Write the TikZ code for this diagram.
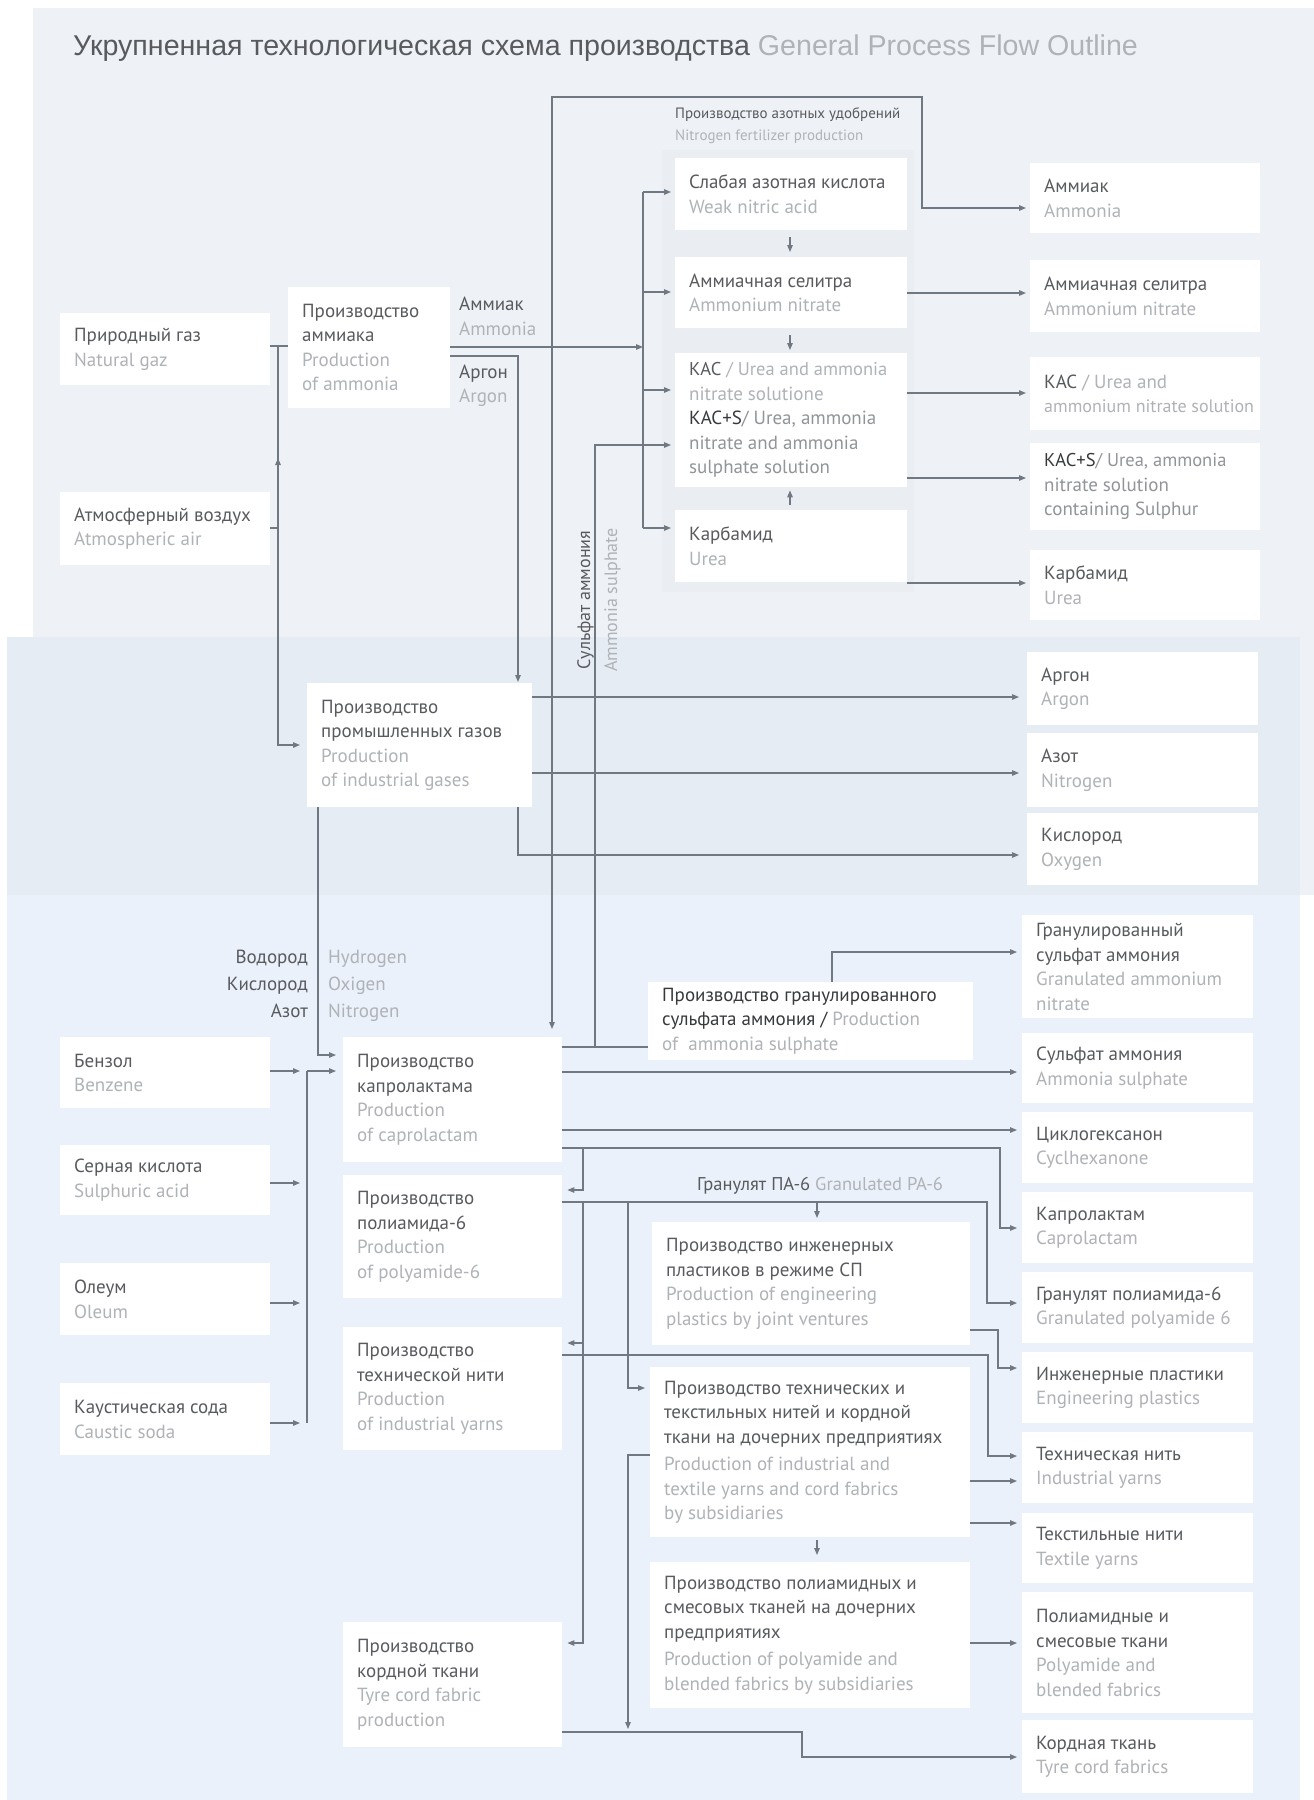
\documentclass[tikz,border=0pt]{standalone}
\usepackage{fontspec}
\setmainfont{PT Sans}
\newfontfamily\titlefont{Liberation Sans}
\usetikzlibrary{arrows.meta}
\definecolor{bgtop}{RGB}{238,241,245}
\definecolor{bgmid}{RGB}{230,236,244}
\definecolor{bglow}{RGB}{234,241,250}
\definecolor{bggrp}{RGB}{234,237,241}
\definecolor{rutc}{RGB}{88,90,94}
\definecolor{dktc}{RGB}{55,57,61}
\definecolor{entc}{RGB}{175,178,182}
\definecolor{mdtc}{RGB}{145,148,152}
\definecolor{lnc}{RGB}{112,120,130}
\newcommand\rutx[1]{\textcolor{rutc}{#1}}
\newcommand\entx[1]{\textcolor{entc}{#1}}
\newcommand\mdtx[1]{\textcolor{mdtc}{#1}}
\newcommand\dktx[1]{\textcolor{dktc}{#1}}
\newcommand\mkbox[6]{%
  \node[boxs, minimum width={#4-#2}, minimum height={#5-#3}, anchor=north west] (#1) at (#2,#3) {};
  \node[txt, anchor=west] (#1t) at ([xshift=14pt]#1.west) {#6};}
\tikzset{
  boxs/.style={rectangle, fill=white, draw=none, inner sep=0pt},
  txt/.style={inner sep=0pt, align=left, font=\fontsize{19}{24.5}\selectfont},
  lbl/.style={inner sep=0pt, font=\fontsize{19}{24}\selectfont},
  ln/.style={draw=lnc, line width=1.2pt},
  arr/.style={ln, -{Triangle[length=7pt,width=5.5pt]}},
}
\begin{document}
\begin{tikzpicture}[x=1pt,y=-1pt]
\useasboundingbox (0,0) rectangle (1314,1800);
\fill[white] (0,0) rectangle (1314,1800);
\fill[bgtop] (33,8) rectangle (1314,895);
\fill[bgmid] (7,637) rectangle (1300,895);
\fill[bglow] (7,895) rectangle (1300,1800);
\fill[bggrp] (662,150) rectangle (914,592);

\node[anchor=base west, inner sep=0pt, font=\titlefont\fontsize{28.6}{32}\selectfont] (title) at (73,55)
  {\textcolor{rutc}{Укрупненная технологическая схема производства} \textcolor{entc}{General Process Flow Outline}};

% ---------- top section boxes
\mkbox{gas}{60}{313}{270}{385}{\rutx{Природный газ}\\\entx{Natural gaz}}
\mkbox{air}{60}{492}{270}{565}{\rutx{Атмосферный воздух}\\\entx{Atmospheric air}}
\mkbox{amm}{288}{287}{450}{408}{\rutx{Производство}\\\rutx{аммиака}\\\entx{Production}\\\entx{of ammonia}}
\mkbox{wna}{675}{158}{907}{230}{\rutx{Слабая азотная кислота}\\\entx{Weak nitric acid}}
\mkbox{an}{675}{257}{907}{328}{\rutx{Аммиачная селитра}\\\entx{Ammonium nitrate}}
\mkbox{kas}{675}{353}{907}{487}{\fontsize{18.5}{23.5}\selectfont\rutx{КАС} \entx{/ Urea and ammonia}\\\entx{nitrate solutione}\\\dktx{КАС+S}\mdtx{/ Urea, ammonia}\\\mdtx{nitrate and ammonia}\\\mdtx{sulphate solution}}
\mkbox{urea}{675}{510}{907}{582}{\rutx{Карбамид}\\\entx{Urea}}
\mkbox{pAmm}{1030}{163}{1260}{233}{\rutx{Аммиак}\\\entx{Ammonia}}
\mkbox{pAN}{1030}{260}{1260}{332}{\rutx{Аммиачная селитра}\\\entx{Ammonium nitrate}}
\mkbox{pKAS}{1030}{357}{1260}{430}{\rutx{КАС} \entx{/ Urea and}\\\fontsize{18}{24}\selectfont\entx{ammonium nitrate solution}}
\mkbox{pKASS}{1030}{443}{1260}{530}{\fontsize{18.5}{23.5}\selectfont\dktx{КАС+S}\mdtx{/ Urea, ammonia}\\\mdtx{nitrate solution}\\\mdtx{containing Sulphur}}
\mkbox{pUrea}{1030}{550}{1260}{620}{\rutx{Карбамид}\\\entx{Urea}}

\node[anchor=base west, inner sep=0pt, font=\fontsize{15}{17}\selectfont] (fgl1) at (675,118) {\rutx{Производство азотных удобрений}};
\node[anchor=base west, inner sep=0pt, font=\fontsize{15}{17}\selectfont] (fgl2) at (675,140) {\entx{Nitrogen fertilizer production}};
\node[lbl, anchor=base west] (la1) at (459,310) {\rutx{Аммиак}};
\node[lbl, anchor=base west] (la2) at (459,335) {\entx{Ammonia}};
\node[lbl, anchor=base west] (lr1) at (459,378) {\rutx{Аргон}};
\node[lbl, anchor=base west] (lr2) at (459,402) {\entx{Argon}};

% ---------- middle section
\mkbox{igas}{307}{683}{532}{807}{\rutx{Производство}\\\rutx{промышленных газов}\\\entx{Production}\\\entx{of industrial gases}}
\mkbox{pAr}{1027}{652}{1258}{725}{\rutx{Аргон}\\\entx{Argon}}
\mkbox{pN}{1027}{733}{1258}{807}{\rutx{Азот}\\\entx{Nitrogen}}
\mkbox{pO}{1027}{813}{1258}{885}{\rutx{Кислород}\\\entx{Oxygen}}

% ---------- lower section
\mkbox{benz}{60}{1037}{270}{1108}{\rutx{Бензол}\\\entx{Benzene}}
\mkbox{sulf}{60}{1145}{270}{1215}{\rutx{Серная кислота}\\\entx{Sulphuric acid}}
\mkbox{oleum}{60}{1263}{270}{1335}{\rutx{Олеум}\\\entx{Oleum}}
\mkbox{soda}{60}{1383}{270}{1455}{\rutx{Каустическая сода}\\\entx{Caustic soda}}
\mkbox{capro}{343}{1037}{562}{1162}{\rutx{Производство}\\\rutx{капролактама}\\\entx{Production}\\\entx{of caprolactam}}
\mkbox{pa6}{343}{1175}{562}{1298}{\rutx{Производство}\\\rutx{полиамида-6}\\\entx{Production}\\\entx{of polyamide-6}}
\mkbox{yarn}{343}{1327}{562}{1450}{\rutx{Производство}\\\rutx{технической нити}\\\entx{Production}\\\entx{of industrial yarns}}
\mkbox{cord}{343}{1622}{562}{1747}{\rutx{Производство}\\\rutx{кордной ткани}\\\entx{Tyre cord fabric}\\\entx{production}}
\mkbox{sasp}{648}{982}{973}{1060}{\dktx{Производство гранулированного}\\\dktx{сульфата аммония /} \entx{Production}\\\entx{of\ \ ammonia sulphate}}
\mkbox{eng}{652}{1222}{970}{1345}{\rutx{Производство инженерных}\\\rutx{пластиков в режиме СП}\\\entx{Production of engineering}\\\entx{plastics by joint ventures}}
\mkbox{subs}{650}{1367}{970}{1537}{\rutx{Производство технических и}\\\rutx{текстильных нитей и кордной}\\\rutx{ткани на дочерних предприятиях}\\[3pt]\entx{Production of industrial and}\\\entx{textile yarns and cord fabrics}\\\entx{by subsidiaries}}
\mkbox{fab}{650}{1562}{970}{1708}{\rutx{Производство полиамидных и}\\\rutx{смесовых тканей на дочерних}\\\rutx{предприятиях}\\[3pt]\entx{Production of polyamide and}\\\entx{blended fabrics by subsidiaries}}
\mkbox{pGAS}{1022}{915}{1253}{1018}{\fontsize{19}{23.5}\selectfont\rutx{Гранулированный}\\\rutx{сульфат аммония}\\\entx{Granulated ammonium}\\\entx{nitrate}}
\mkbox{pAS}{1022}{1033}{1253}{1103}{\rutx{Сульфат аммония}\\\entx{Ammonia sulphate}}
\mkbox{pCyc}{1022}{1112}{1253}{1183}{\rutx{Циклогексанон}\\\entx{Cyclhexanone}}
\mkbox{pCap}{1022}{1192}{1253}{1263}{\rutx{Капролактам}\\\entx{Caprolactam}}
\mkbox{pGPA}{1022}{1272}{1253}{1343}{\rutx{Гранулят полиамида-6}\\\entx{Granulated polyamide 6}}
\mkbox{pEng}{1022}{1352}{1253}{1423}{\rutx{Инженерные пластики}\\\entx{Engineering plastics}}
\mkbox{pYarn}{1022}{1432}{1253}{1503}{\rutx{Техническая нить}\\\entx{Industrial yarns}}
\mkbox{pTex}{1022}{1513}{1253}{1583}{\rutx{Текстильные нити}\\\entx{Textile yarns}}
\mkbox{pFab}{1022}{1592}{1253}{1713}{\rutx{Полиамидные и}\\\rutx{смесовые ткани}\\\entx{Polyamide and}\\\entx{blended fabrics}}
\mkbox{pCord}{1022}{1720}{1253}{1793}{\rutx{Кордная ткань}\\\entx{Tyre cord fabrics}}

\node[lbl, anchor=base east] (lh1) at (308,963) {\rutx{Водород}};
\node[lbl, anchor=base east] (lh2) at (308,990) {\rutx{Кислород}};
\node[lbl, anchor=base east] (lh3) at (308,1017) {\rutx{Азот}};
\node[lbl, anchor=base west] (le1) at (328,963) {\entx{Hydrogen}};
\node[lbl, anchor=base west] (le2) at (328,990) {\entx{Oxigen}};
\node[lbl, anchor=base west] (le3) at (328,1017) {\entx{Nitrogen}};
\node[lbl, anchor=base west, font=\fontsize{18.5}{20}\selectfont] (gpa) at (697,1190) {\rutx{Гранулят ПА-6} \entx{Granulated PA-6}};
\node[lbl, rotate=90, anchor=base, font=\fontsize{18}{20}\selectfont] (sa1) at (590,600) {\rutx{Сульфат аммония}};
\node[lbl, rotate=90, anchor=base, font=\fontsize{18}{20}\selectfont] (sa2) at (617,600) {\entx{Ammonia sulphate}};

% ---------- connectors: top
\coordinate (jg) at (278,346);
\coordinate (ja) at (278,528);
\draw[ln] (gas.east |- jg) -- (amm.west |- jg);
\draw[ln] (air.east |- ja) -- (ja) -- (jg);
\draw[arr] (ja) -- (278,458);
\draw[arr, shorten >=7pt] (ja) |- (igas.west |- 0,745);
\draw[arr] (amm.east |- 0,347) -- (643,347);
\draw[ln] (643,192) -- (643,528);
\draw[arr, shorten >=4pt] (643,192) -- (wna.west |- 0,192);
\draw[arr, shorten >=4pt] (643,292) -- (an.west |- 0,292);
\draw[arr, shorten >=4pt] (643,390) -- (kas.west |- 0,390);
\draw[arr, shorten >=4pt] (643,528) -- (urea.west |- 0,528);
\draw[arr, shorten >=1pt] (amm.east |- 0,356) -| (igas.north -| 518,0);
\coordinate (jn) at (552,347);
\draw[arr, shorten >=4pt] (jn) |- (922,97) |- (pAmm.west |- 0,208);
\draw[arr, shorten >=8pt] (jn) -- (capro.north -| jn);
\draw[arr, shorten <=7pt, shorten >=5pt] (wna.south -| 790,0) -- (an.north -| 790,0);
\draw[arr, shorten <=7pt, shorten >=3pt] (an.south -| 790,0) -- (kas.north -| 790,0);
\draw[arr, shorten <=5pt, shorten >=3pt] (urea.north -| 790,0) -- (kas.south -| 790,0);
\draw[arr, shorten >=4pt] (an.east |- 0,293) -- (pAN.west |- 0,293);
\draw[arr, shorten >=4pt] (kas.east |- 0,393) -- (pKAS.west |- 0,393);
\draw[arr, shorten >=4pt] (kas.east |- 0,478) -- (pKASS.west |- 0,478);
\draw[arr, shorten >=4pt] (urea.east |- 0,583) -- (pUrea.west |- 0,583);

% ---------- connectors: middle
\draw[arr, shorten >=8pt] (igas.east |- 0,697) -- (pAr.west |- 0,697);
\draw[arr, shorten >=8pt] (igas.east |- 0,773) -- (pN.west |- 0,773);
\draw[arr, shorten >=8pt] (igas.south -| 518,0) |- (pO.west |- 0,855);
\draw[arr, shorten >=7pt] (igas.south -| 318,0) |- (capro.west |- 0,1055);

% ---------- connectors: lower
\draw[arr, shorten >=7pt] (benz.east |- 0,1071) -- (307,1071);
\draw[arr, shorten >=7pt] (sulf.east |- 0,1183) -- (307,1183);
\draw[arr, shorten >=7pt] (oleum.east |- 0,1303) -- (307,1303);
\draw[arr, shorten >=7pt] (soda.east |- 0,1423) -- (307,1423);
\draw[ln] (307,1071) -- (307,1423);
\draw[arr, shorten >=7pt] (307,1071) -- (capro.west |- 0,1071);

\draw[ln] (capro.east |- 0,1047) -- (sasp.west |- 0,1047);
\draw[arr, shorten >=4pt] (595,1047) |- (kas.west |- 0,445);
\draw[arr, shorten >=5pt] (sasp.north -| 832,0) |- (pGAS.west |- 0,952);
\draw[arr, shorten >=5pt] (capro.east |- 0,1072) -- (pAS.west |- 0,1072);
\draw[arr, shorten >=5pt] (capro.east |- 0,1130) -- (pCyc.west |- 0,1130);
\draw[arr, shorten >=5pt] (capro.east |- 0,1148) -| (1000,1228) -- (pCap.west |- 0,1228);
\draw[arr, shorten >=5pt] (583,1148) |- (pa6.east |- 0,1190);

\coordinate (p6) at (562,1202);
\draw[arr, shorten >=5pt] (pa6.east |- p6) -| (987,1303) -- (pGPA.west |- 0,1303);
\draw[arr, shorten >=4pt] (817,1202) -- (eng.north -| 817,0);
\draw[arr, shorten >=5pt] (628,1202) |- (subs.west |- 0,1388);
\draw[arr, shorten >=5pt] (583,1202) |- (cord.east |- 0,1643);
\draw[arr, shorten >=5pt] (583,1343) -- (yarn.east |- 0,1343);

\draw[arr, shorten >=5pt] (eng.east |- 0,1330) -| (998,1368) -- (pEng.west |- 0,1368);
\draw[arr, shorten >=5pt] (yarn.east |- 0,1355) -| (988,1456) -- (pYarn.west |- 0,1456);
\draw[arr, shorten >=5pt] (subs.east |- 0,1481) -- (pYarn.west |- 0,1481);
\draw[arr, shorten >=5pt] (subs.east |- 0,1523) -- (pTex.west |- 0,1523);
\draw[arr, shorten <=3pt, shorten >=7pt] (subs.south -| 817,0) -- (fab.north -| 817,0);
\draw[arr] (subs.west |- 0,1455) -| (628,1729);
\draw[arr, shorten >=5pt] (fab.east |- 0,1643) -- (pFab.west |- 0,1643);
\draw[arr, shorten >=5pt] (cord.east |- 0,1732) -| (802,1757) -- (pCord.west |- 0,1757);
\end{tikzpicture}
\end{document}
